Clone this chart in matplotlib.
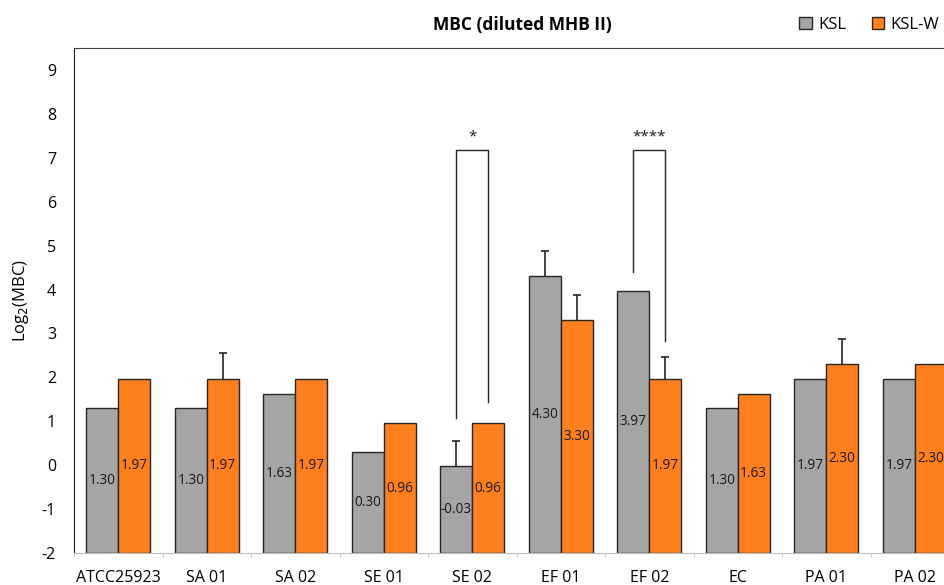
#!/usr/bin/env python3
"""MBC (diluted MHB II) grouped bar chart."""
import matplotlib.pyplot as plt
import numpy as np
from matplotlib.patches import Patch

plt.rcParams["font.family"] = ["Open Sans", "DejaVu Sans"]
plt.rcParams["axes.unicode_minus"] = False

strains = ["ATCC25923", "SA 01", "SA 02", "SE 01", "SE 02",
           "EF 01", "EF 02", "EC", "PA 01", "PA 02"]
ksl = [1.30, 1.30, 1.63, 0.30, -0.03, 4.30, 3.97, 1.30, 1.97, 1.97]
ksl_w = [1.97, 1.97, 1.97, 0.96, 0.96, 3.30, 1.97, 1.63, 2.30, 2.30]
ksl_err = [0, 0, 0, 0, 0.58, 0.58, 0, 0, 0, 0]
ksl_w_err = [0, 0.58, 0, 0, 0, 0.58, 0.50, 0, 0.58, 0]

# significance brackets: (category index, left leg bottom, right leg bottom, label)
brackets = [(4, 1.07, 1.43, "*"), (6, 4.39, 2.82, "****")]
bracket_top = 7.18

GRAY = "#A5A5A5"
ORANGE = "#FF7F1F"
EDGE = "#262626"
Y_MIN, Y_MAX = -2, 9.5

fig = plt.figure(figsize=(9.45, 5.85), dpi=100)
ax = fig.add_axes([74 / 945, 32 / 585, 885 / 945, 505 / 585])

x = np.arange(len(strains))
w = 0.36
ksl_arr = np.array(ksl)
kslw_arr = np.array(ksl_w)

ax.bar(x - w / 2, ksl_arr - Y_MIN, w, bottom=Y_MIN, color=GRAY,
       edgecolor=EDGE, linewidth=1.0, zorder=2)
ax.bar(x + w / 2, kslw_arr - Y_MIN, w, bottom=Y_MIN, color=ORANGE,
       edgecolor=EDGE, linewidth=1.0, zorder=2)

# upward-only error bars (stem + top cap)
cap = 0.045
for xs, vals, errs in [(x - w / 2, ksl, ksl_err), (x + w / 2, ksl_w, ksl_w_err)]:
    for xi, v, e in zip(xs, vals, errs):
        if e > 0:
            ax.vlines(xi, v, v + e, color=EDGE, linewidth=1.2, zorder=3)
            ax.hlines(v + e, xi - cap, xi + cap, color=EDGE, linewidth=1.2,
                      zorder=3)

# value labels centred in the bars
for xi, v in zip(x - w / 2, ksl):
    ax.text(xi, (v + Y_MIN) / 2, f"{v:.2f}", ha="center", va="center",
            fontsize=9.8, color="#1a1a1a", zorder=4)
for xi, v in zip(x + w / 2, ksl_w):
    ax.text(xi, (v + Y_MIN) / 2, f"{v:.2f}", ha="center", va="center",
            fontsize=9.8, color="#1a1a1a", zorder=4)

# significance brackets
for idx, lb, rb, lab in brackets:
    xl, xr = idx - w / 2, idx + w / 2
    ax.plot([xl, xl, xr, xr], [lb, bracket_top, bracket_top, rb],
            color=EDGE, linewidth=1.0, zorder=3)
    ax.text(idx, bracket_top + 0.12, lab, ha="center", va="bottom",
            fontsize=11, color="#1a1a1a")

ax.set_xlim(-0.5, len(strains) - 0.5)
ax.set_ylim(Y_MIN, Y_MAX)
ax.set_yticks(np.arange(-2, 10))
ax.set_xticks(x)
ax.set_xticklabels(strains)
ax.set_xticks(np.arange(len(strains) + 1) - 0.5, minor=True)
ax.tick_params(axis="x", which="major", length=0, pad=12, labelsize=11.5)
ax.tick_params(axis="x", which="minor", length=3, color="#BFBFBF")
ax.tick_params(axis="y", length=0, pad=13, labelsize=11.5)

ax.spines["left"].set_color("#1a1a1a")
ax.spines["top"].set_color("#404040")
ax.spines["bottom"].set_color("#BFBFBF")
ax.spines["right"].set_visible(False)

ax.set_ylabel("Log$_2$(MBC)", fontsize=12, labelpad=8)

fig.text(0.553, 0.957, "MBC (diluted MHB II)", ha="center", va="center",
         fontsize=12.5, fontweight="bold")

handles = [Patch(facecolor=GRAY, edgecolor=EDGE, label="KSL"),
           Patch(facecolor=ORANGE, edgecolor=EDGE, label="KSL-W")]
fig.legend(handles=handles, loc="center right", bbox_to_anchor=(1.01, 0.957),
           ncol=2, frameon=False, fontsize=12, handlelength=0.75,
           handleheight=0.75, handletextpad=0.4, columnspacing=1.5)

fig.savefig("out.png", dpi=100)
